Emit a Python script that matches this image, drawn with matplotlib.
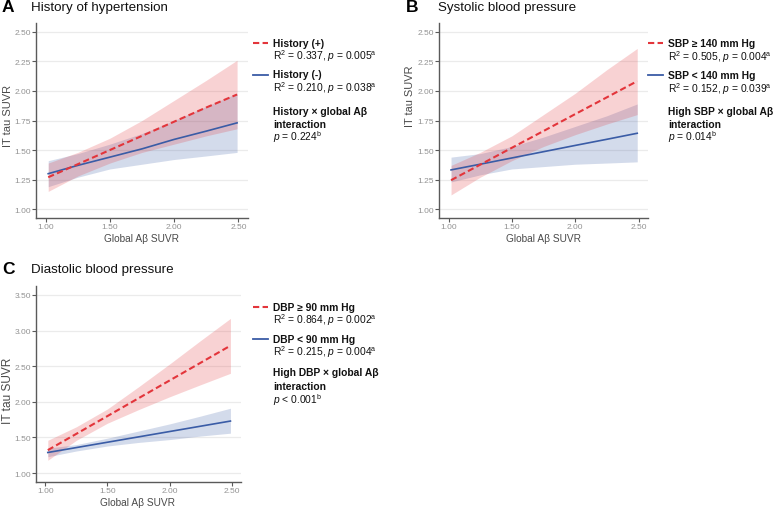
import numpy as np
import matplotlib
matplotlib.use('Agg')
import matplotlib.pyplot as plt
from matplotlib.lines import Line2D

# Fonts: Arial-like text, DejaVu as fallback for the odd glyph
plt.rcParams['font.family'] = ['Liberation Sans', 'DejaVu Sans']
plt.rcParams['mathtext.fontset'] = 'custom'
plt.rcParams['mathtext.rm'] = 'Liberation Sans'
plt.rcParams['mathtext.it'] = 'Liberation Sans:italic'
plt.rcParams['mathtext.bf'] = 'Liberation Sans:bold'

#region Data
x_fit = [1.02, 1.25, 1.50, 1.75, 2.00, 2.25, 2.49]

# A - history of hypertension
histpos_fit = [1.27, 1.38, 1.50, 1.62, 1.74, 1.86, 1.97]
histpos_lo = [1.15, 1.28, 1.39, 1.48, 1.55, 1.62, 1.68]
histpos_hi = [1.39, 1.48, 1.60, 1.75, 1.92, 2.09, 2.26]
histneg_fit = [1.30, 1.37, 1.44, 1.51, 1.59, 1.66, 1.73]
histneg_lo = [1.19, 1.27, 1.34, 1.38, 1.42, 1.45, 1.48]
histneg_hi = [1.41, 1.47, 1.55, 1.64, 1.75, 1.87, 1.98]

# B - systolic blood pressure
sbphi_fit = [1.245, 1.376, 1.519, 1.661, 1.804, 1.946, 2.083]
sbphi_lo = [1.12, 1.27, 1.41, 1.53, 1.63, 1.72, 1.80]
sbphi_hi = [1.37, 1.48, 1.62, 1.80, 1.98, 2.18, 2.36]
sbplo_fit = [1.332, 1.380, 1.433, 1.486, 1.539, 1.591, 1.642]
sbplo_lo = [1.23, 1.29, 1.34, 1.36, 1.38, 1.39, 1.40]
sbplo_hi = [1.44, 1.47, 1.53, 1.61, 1.70, 1.79, 1.89]

# C - diastolic blood pressure
dbphi_fit = [1.322, 1.551, 1.800, 2.050, 2.299, 2.548, 2.788]
dbphi_lo = [1.18, 1.46, 1.70, 1.89, 2.07, 2.24, 2.40]
dbphi_hi = [1.46, 1.65, 1.90, 2.21, 2.53, 2.86, 3.17]
dbplo_fit = [1.289, 1.358, 1.433, 1.508, 1.583, 1.658, 1.730]
dbplo_lo = [1.23, 1.31, 1.38, 1.43, 1.47, 1.52, 1.56]
dbplo_hi = [1.35, 1.40, 1.49, 1.59, 1.69, 1.80, 1.91]

xticks = [1.00, 1.50, 2.00, 2.50]
yticks_ab = [1.00, 1.25, 1.50, 1.75, 2.00, 2.25, 2.50]
yticks_c = [1.00, 1.50, 2.00, 2.50, 3.00, 3.50]

panel_letters = ['A', 'B', 'C']
panel_titles = ['History of hypertension', 'Systolic blood pressure', 'Diastolic blood pressure']

legend_a = ['History (+)', 'R$^{2}$ = 0.337, $p$ = 0.005$^{\\mathrm{a}}$',
            'History (-)', 'R$^{2}$ = 0.210, $p$ = 0.038$^{\\mathrm{a}}$',
            'History × global Aβ', 'interaction', '$p$ = 0.224$^{\\mathrm{b}}$']
legend_b = ['SBP ≥ 140 mm Hg', 'R$^{2}$ = 0.505, $p$ = 0.004$^{\\mathrm{a}}$',
            'SBP < 140 mm Hg', 'R$^{2}$ = 0.152, $p$ = 0.039$^{\\mathrm{a}}$',
            'High SBP × global Aβ', 'interaction', '$p$ = 0.014$^{\\mathrm{b}}$']
legend_c = ['DBP ≥ 90 mm Hg', 'R$^{2}$ = 0.864, $p$ = 0.002$^{\\mathrm{a}}$',
            'DBP < 90 mm Hg', 'R$^{2}$ = 0.215, $p$ = 0.004$^{\\mathrm{a}}$',
            'High DBP × global Aβ', 'interaction', '$p$ < 0.001$^{\\mathrm{b}}$']
#endregion

#region Style
W, H = 778, 510
RED = '#E3353B'
BLUE = '#3A5CA6'
GRID = '#EBEBEB'
TICKCOL = '#929292'
SPINE = '#5A5A5A'
LABCOL = '#4A4A4A'

fig = plt.figure(figsize=(W / 100, H / 100), dpi=100)


def px(x, y):
    # pixel position -> figure fraction
    return x / W, 1 - y / H


def make_axes(left, top, right, bottom):
    x0, y1 = px(left, top)
    x1, y0 = px(right, bottom)
    return fig.add_axes([x0, y0, x1 - x0, y1 - y0])
#endregion


def draw_panel(ax, hi_fit, hi_lo, hi_hi, lo_fit, lo_lo, lo_hi, yticks, ylim):
    # blue group first, red ribbon drawn over it
    ax.fill_between(x_fit, lo_lo, lo_hi, color=BLUE, alpha=0.22, linewidth=0)
    ax.plot(x_fit, lo_fit, color=BLUE, linewidth=1.2)
    ax.fill_between(x_fit, hi_lo, hi_hi, color=RED, alpha=0.22, linewidth=0)
    ax.plot(x_fit, hi_fit, color=RED, linewidth=1.5, dashes=(3.0, 1.6))

    ax.set_xlim(0.925, 2.575)
    ax.set_ylim(*ylim)
    ax.set_xticks(xticks)
    ax.set_xticklabels(['%.2f' % t for t in xticks])
    ax.set_yticks(yticks)
    ax.set_yticklabels(['%.2f' % t for t in yticks])
    ax.yaxis.grid(True, color=GRID, linewidth=0.9)
    ax.xaxis.grid(False)
    ax.set_axisbelow(True)
    for s in ['top', 'right']:
        ax.spines[s].set_visible(False)
    for s in ['left', 'bottom']:
        ax.spines[s].set_color(SPINE)
        ax.spines[s].set_linewidth(1.0)
    ax.tick_params(axis='both', colors=SPINE, labelcolor=TICKCOL, labelsize=6.0,
                   length=2.8, width=0.8, pad=1.0)


def axis_labels(xl_x, xl_y, yl_x, yl_y, ysize):
    fx, fy = px(xl_x, xl_y)
    fig.text(fx, fy, 'Global Aβ SUVR', fontsize=7.3, color=LABCOL, ha='center', va='center')
    fx, fy = px(yl_x, yl_y)
    fig.text(fx, fy, 'IT tau SUVR', fontsize=ysize, color=LABCOL, ha='center', va='center',
             rotation=90)


def draw_legend(x_line, x_text, rows_y, texts):
    # sample lines
    for y, col, dash in [(rows_y[0], RED, (3.0, 1.6)), (rows_y[2], BLUE, None)]:
        xa, ya = px(x_line, y)
        xb, _ = px(x_line + 15, y)
        ln = Line2D([xa, xb], [ya, ya], transform=fig.transFigure, color=col,
                    linewidth=1.5 if dash else 1.3)
        if dash:
            ln.set_dashes(dash)
        fig.add_artist(ln)
    for i, (y, t) in enumerate(zip(rows_y, texts)):
        bold = i in (0, 2, 4, 5)
        fx, fy = px(x_text, y)
        fig.text(fx, fy, t, fontsize=7.4, fontweight='bold' if bold else 'normal',
                 color='#111111', va='center', ha='left')


# Panel A
ax_a = make_axes(36, 24, 248, 219)
draw_panel(ax_a, histpos_fit, histpos_lo, histpos_hi, histneg_fit, histneg_lo, histneg_hi,
           yticks_ab, (0.925, 2.575))
axis_labels(142, 239, 8, 116, 8.0)
draw_legend(253, 273, [44, 56.5, 75.5, 88, 112, 125, 137], legend_a)

# Panel B
ax_b = make_axes(439, 24, 648, 219)
draw_panel(ax_b, sbphi_fit, sbphi_lo, sbphi_hi, sbplo_fit, sbplo_lo, sbplo_hi,
           yticks_ab, (0.925, 2.575))
axis_labels(543, 239, 410, 96, 7.9)
draw_legend(648, 668, [44, 57, 76, 89, 112, 125, 137], legend_b)

# Panel C
ax_c = make_axes(36, 287, 241, 483)
draw_panel(ax_c, dbphi_fit, dbphi_lo, dbphi_hi, dbplo_fit, dbplo_lo, dbplo_hi,
           yticks_c, (0.875, 3.625))
axis_labels(138, 503, 8, 391, 8.6)
draw_legend(253, 273, [308, 320.5, 340, 352.5, 373, 387, 400], legend_c)

# Panel letters and titles
for (lx, tx, ty), letter, title in zip([(2, 31, 8), (406, 438, 8), (2, 31, 270)],
                                       panel_letters, panel_titles):
    fx, fy = px(lx, ty)
    fig.text(fx, fy, letter, fontsize=12.5, fontweight='bold', va='center', ha='left')
    fx, fy = px(tx, ty)
    fig.text(fx, fy, title, fontsize=9.6, va='center', ha='left', color='#111111')

plt.savefig('out.png', dpi=100)
